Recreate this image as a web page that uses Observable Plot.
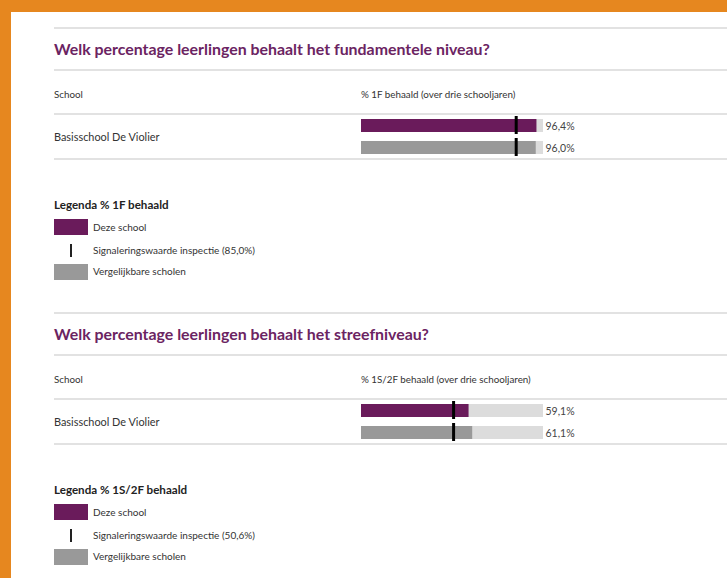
<!DOCTYPE html>
<html>
<head>
<meta charset="utf-8">
<script src="https://cdn.jsdelivr.net/npm/d3@7"></script>
<script src="https://cdn.jsdelivr.net/npm/@observablehq/plot@0.6"></script>
<style>
  html, body { margin: 0; padding: 0; }
  body { width: 727px; height: 578px; overflow: hidden; background: #e6871f; font-family: Lato, "Open Sans", sans-serif; }
  #panel { position: absolute; left: 11px; top: 12px; right: 0; bottom: 0; background: #fff; }
  .abs { position: absolute; white-space: nowrap; }
  .line { position: absolute; left: 54px; right: 0; height: 2px; background: #e2e2e2; }
  .t { position: absolute; white-space: nowrap; height: 20px; line-height: 20px; color: #333; }
</style>
</head>
<body>
<div id="root" style="position:absolute;left:0;top:0;width:727px;height:578px;"></div>
<script>
// ---- data ----
const categories = ["Deze school", "Vergelijkbare scholen"];
const schoolName = "Basisschool De Violier";
const sectionTitles = [
  "Welk percentage leerlingen behaalt het fundamentele niveau?",
  "Welk percentage leerlingen behaalt het streefniveau?"
];
const columnHeaders = [
  "% 1F behaald (over drie schooljaren)",
  "% 1S/2F behaald (over drie schooljaren)"
];
const legendTitles = ["Legenda % 1F behaald", "Legenda % 1S/2F behaald"];
const values1F = [96.4, 96.0];
const values2F = [59.1, 61.1];
const signal1F = 85.0;
const signal2F = 50.6;
const scaleMax = 100;

const sectionValues = [values1F, values2F];
const sectionSignals = [signal1F, signal2F];

const purple = "#6a1b5b";
const grey = "#999999";
const fmt = v => d3.format(".1f")(v).replace(".", ",") + "%";

const root = document.getElementById("root");
const panel = document.createElement("div");
panel.id = "panel";
document.body.insertBefore(panel, root);

function addEl(html) {
  const d = document.createElement("div");
  d.innerHTML = html;
  const el = d.firstElementChild;
  root.appendChild(el);
  return el;
}
function line(y) { addEl(`<div class="line" style="top:${y - 1}px"></div>`); }
function text(x, cy, s, style) { addEl(`<div class="t" style="left:${x}px;top:${cy - 10}px;${style || ""}">${s}</div>`); }

sectionTitles.forEach((title, i) => {
  const o = i * 285;
  line(28 + o);
  text(54, 49 + o, title, "font-size:15.9px;font-weight:700;color:#6b2462;");
  line(70 + o);
  text(54, 94 + o, "School", "font-size:9.8px;");
  text(361, 94 + o, columnHeaders[i], "font-size:9.8px;");
  line(114 + o);
  text(54, 137 + o, schoolName, "font-size:10.9px;");
  line(159 + o);

  const rows = categories.map((c, j) => ({cat: c, value: sectionValues[i][j]}));
  const signal = sectionSignals[i];
  const chart = Plot.plot({
    width: 727,
    height: 45,
    marginLeft: 361,
    marginRight: 184,
    marginTop: 1,
    marginBottom: 0,
    style: {background: "transparent", fontFamily: "Lato, sans-serif", overflow: "visible"},
    x: {domain: [0, scaleMax], axis: null},
    y: {domain: categories, axis: null, paddingInner: 0.4, paddingOuter: 0.2},
    color: {domain: categories, range: [purple, grey]},
    marks: [
      Plot.barX(rows, {y: "cat", x1: 0, x2: scaleMax, fill: "#dcdcdc"}),
      Plot.barX(rows, {y: "cat", x1: 0, x2: "value", fill: "cat"}),
      Plot.tickX(rows, {y: "cat", x: () => signal, stroke: "#000", strokeWidth: 3, insetTop: -3, insetBottom: -2}),
      Plot.text(rows, {y: "cat", x: scaleMax, text: d => fmt(d.value), textAnchor: "start", dx: 2, dy: 1, fontSize: 10.5, fill: "#444"})
    ]
  });
  chart.style.position = "absolute";
  chart.style.left = "0px";
  chart.style.top = (114 + o) + "px";
  root.appendChild(chart);

  // legend
  text(54, 205 + o, legendTitles[i], "font-size:11.6px;font-weight:700;color:#222;");
  addEl(`<div class="abs" style="left:54px;top:${219 + o}px;width:34px;height:16px;background:${purple}"></div>`);
  text(93, 227 + o, categories[0], "font-size:10px;");
  addEl(`<div class="abs" style="left:70px;top:${244 + o}px;width:2px;height:13px;background:#222"></div>`);
  text(93, 250 + o, `Signaleringswaarde inspectie (${fmt(signal)})`, "font-size:10px;");
  addEl(`<div class="abs" style="left:54px;top:${264 + o}px;width:34px;height:16px;background:${grey}"></div>`);
  text(93, 271 + o, categories[1], "font-size:10px;");
});
</script>
</body>
</html>
